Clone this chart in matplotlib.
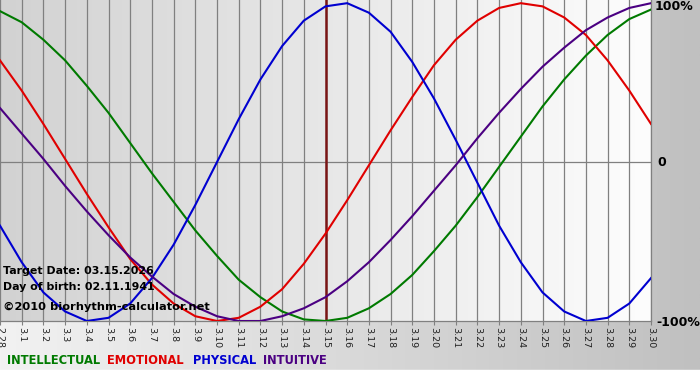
import numpy as np
import matplotlib.pyplot as plt
from matplotlib.colors import LinearSegmentedColormap

# dates along the bottom (day labels)
dates = ["2.28"] + ["3.%d" % d for d in range(1, 31)]

# values in percent for each day
intellectual = [95, 88, 77, 64, 48, 31, 12, -7, -25, -43, -59, -74, -85, -94, -99, -100,
                -98, -92, -83, -71, -56, -40, -22, -3, 16, 35, 52, 67, 80, 90, 96]
emotional = [64, 45, 24, 2, -20, -41, -61, -77, -89, -97, -100, -98, -91, -80, -64, -45,
             -24, -2, 20, 41, 61, 77, 89, 97, 100, 98, 91, 80, 64, 45, 24]
physical = [-40, -63, -82, -94, -100, -98, -89, -73, -52, -27, 0, 27, 52, 73, 89, 98,
            100, 94, 82, 63, 40, 14, -13, -40, -63, -82, -94, -100, -98, -89, -73]
intuitive = [34, 18, 2, -15, -31, -46, -60, -72, -83, -91, -97, -100, -100, -97, -92, -85,
             -75, -63, -49, -34, -18, -2, 15, 31, 46, 60, 72, 83, 91, 97, 100]

target_idx = 15  # 3.15

series = [("INTELLECTUAL", intellectual, "#007a00"),
          ("EMOTIONAL", emotional, "#e00000"),
          ("PHYSICAL", physical, "#0000d0"),
          ("INTUITIVE", intuitive, "#4b0082")]

fig = plt.figure(figsize=(7, 3.8), dpi=100)

# figure background: light on the left, grey on the right, white strip at bottom
bg = fig.add_axes([0, 0, 1, 1], zorder=-10)
bg.axis("off")
bg_cmap = LinearSegmentedColormap.from_list("bg", ["#f2f2f2", "#c0c0c0"])
bg.imshow(np.linspace(0, 1, 256)[None, :], cmap=bg_cmap, aspect="auto",
          extent=[0, 1, 10 / 380, 1])
bg.axhspan(0, 10 / 380, color="white")
bg.set_xlim(0, 1)
bg.set_ylim(0, 1)

ax = fig.add_axes([0, 59 / 380, 651 / 700, 321 / 380])
x = np.arange(len(dates))

plot_cmap = LinearSegmentedColormap.from_list("plot", ["#d2d2d2", "#fdfdfd"])
ax.imshow(np.linspace(0, 1, 256)[None, :], cmap=plot_cmap, aspect="auto",
          extent=[0, 30, -100, 102], zorder=0)

ax.set_xlim(0, 30)
ax.set_ylim(-100, 102)

ax.set_xticks(x)
ax.set_xticklabels(dates, rotation=-90, fontsize=6.8, color="#202020")
ax.tick_params(axis="x", length=3, width=0.8, color="#808080", pad=1)
ax.set_yticks([])
ax.grid(axis="x", color="#808080", lw=0.9, zorder=1)
ax.axhline(0, color="#808080", lw=0.9, zorder=1)
ax.axvline(target_idx, color="#7a1515", lw=1.8, zorder=2)

for name, vals, col in series:
    ax.plot(x, vals, color=col, lw=1.5, zorder=3, solid_joinstyle="round")

for s in ["top", "left"]:
    ax.spines[s].set_visible(False)
for s in ["bottom", "right"]:
    ax.spines[s].set_color("#808080")
    ax.spines[s].set_linewidth(0.9)

# info text in the lower left
ax.text(0.005, 0.155, "Target Date: 03.15.2026", transform=ax.transAxes,
        fontsize=7.9, fontweight="bold", va="center", zorder=5)
ax.text(0.005, 0.106, "Day of birth: 02.11.1941", transform=ax.transAxes,
        fontsize=7.9, fontweight="bold", va="center", zorder=5)
ax.text(0.005, 0.044, "\u00a92010 biorhythm-calculator.net", transform=ax.transAxes,
        fontsize=8.2, fontweight="bold", va="center", zorder=5)

# right side percent labels
fig.text(655 / 700, 1 - 7 / 380, "100%", fontsize=9, fontweight="bold", va="center")
fig.text(657 / 700, 1 - 162 / 380, "0", fontsize=9, fontweight="bold", va="center")
fig.text(656 / 700, 1 - 322 / 380, "-100%", fontsize=9, fontweight="bold", va="center")

# legend row
lx = [7, 107, 193, 263]
for (name, vals, col), px in zip(series, lx):
    fig.text(px / 700, 1 - 361 / 380, name, color=col, fontsize=8.3,
             fontweight="bold", va="center")

fig.savefig("out.png", dpi=100)
